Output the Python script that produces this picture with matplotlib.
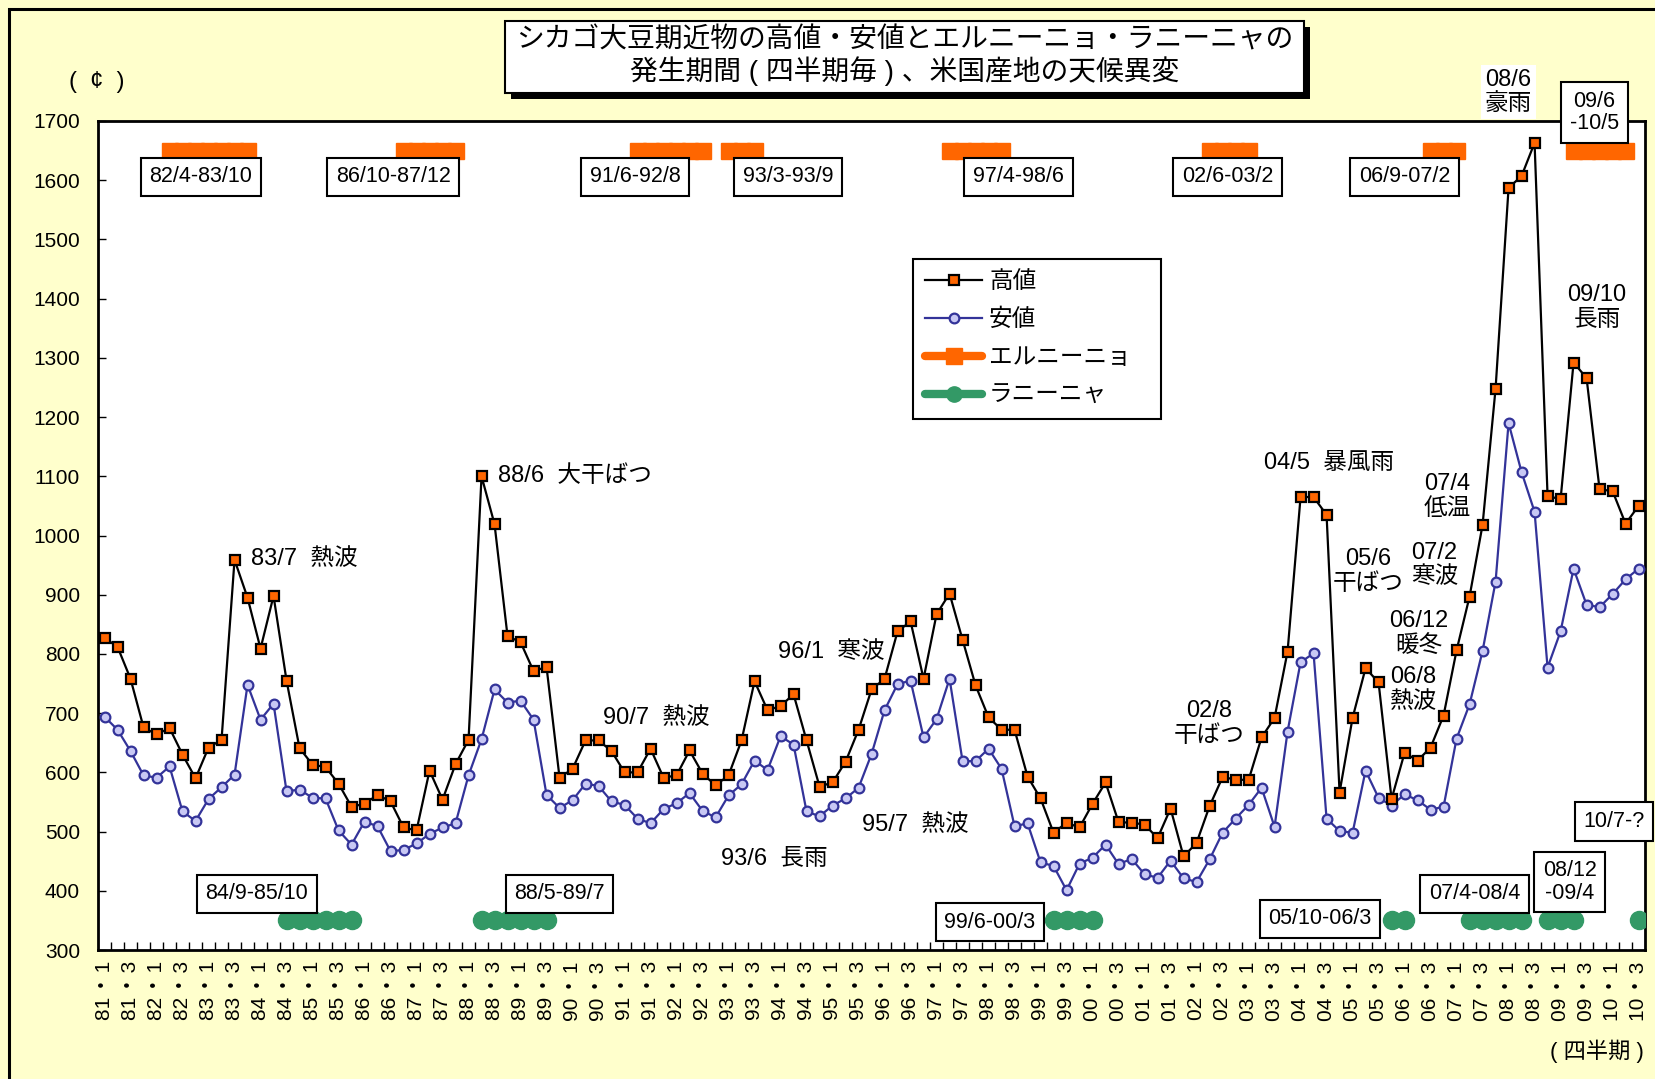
import numpy as np
import matplotlib
matplotlib.use("Agg")
import matplotlib.pyplot as plt
from matplotlib.patches import Rectangle
from matplotlib.lines import Line2D

plt.rcParams['font.family'] = ['Liberation Sans', 'Noto Sans CJK JP', 'DejaVu Sans']

# 四半期 81・1 .. 10・3
quarters = [f"{y % 100:02d}\u200a・\u200a{q}" for y in range(1981, 2011) for q in range(1, 5)][:119]

# 高値 (cents)
high = [827, 812, 758, 676, 664, 675, 630, 590, 642, 655, 959, 895, 809, 898, 755, 641, 613, 609, 581, 542,
        547, 562, 551, 507, 502, 603, 554, 614, 655, 1100, 1019, 830, 820, 771, 778, 591,
        606, 654, 654, 636, 600, 600, 640, 591, 595, 637, 598, 578, 595, 654, 754, 705, 712, 732, 654, 576,
        583, 618, 672, 740, 758, 838, 855, 758, 867, 902, 824, 747, 693, 672, 672, 593, 556, 498, 515, 507, 547,
        583, 516, 515, 512, 489, 539, 458, 481, 543, 592, 588, 587, 659, 692, 804, 1065, 1065, 1035, 566, 692,
        776, 752, 555, 633, 620, 642, 696, 806, 897, 1018,
        1248, 1587, 1607, 1663, 1067, 1061, 1292, 1266, 1078, 1075, 1020, 1050]

# 安値 (cents)
low = [694, 672, 636, 595, 591, 610, 534, 518, 555, 575, 596, 748, 689, 716, 568, 571, 557, 556, 502, 478,
       517, 509, 467, 469, 480, 496, 507, 514, 595, 656, 740, 718, 721, 689, 562, 540,
       553, 581, 577, 551, 545, 522, 514, 538, 548, 565, 535, 524, 561, 580, 620, 604, 661, 647, 534, 526,
       544, 556, 574, 631, 705, 749, 755, 659, 690, 758, 619, 619, 640, 606, 509, 514, 448, 442, 401, 446, 456,
       478, 445, 454, 428, 422, 451, 421, 415, 453, 498, 522, 545, 574, 508, 669, 786, 801, 522, 501, 498,
       603, 557, 544, 563, 553, 537, 542, 657, 715, 805, 922, 1190, 1107, 1040, 777, 838, 944, 883, 879, 901,
       926, 944]

# エルニーニョ / ラニーニャ 発生期間 (quarter index start, end)
elnino_spans = [(5, 11), (23, 27), (41, 46), (48, 50), (65, 69), (85, 88), (102, 104), (113, 117)]
lanina_spans = [(14, 19), (29, 34), (73, 76), (99, 100), (105, 109), (111, 113), (118, 118)]
elnino_level = 1650
lanina_level = 350

elnino_boxes = [("82/4-83/10", 7.4, 1606), ("86/10-87/12", 22.2, 1606), ("91/6-92/8", 40.8, 1606),
                ("93/3-93/9", 52.6, 1606), ("97/4-98/6", 70.3, 1606), ("02/6-03/2", 86.4, 1606),
                ("06/9-07/2", 100.0, 1606), ("09/6\n-10/5", 114.6, 1714)]
lanina_boxes = [("84/9-85/10", 11.7, 395), ("88/5-89/7", 35.0, 395), ("99/6-00/3", 68.1, 347),
                ("05/10-06/3", 93.5, 353), ("07/4-08/4", 105.4, 395), ("08/12\n-09/4", 112.7, 415),
                ("10/7-?", 116.1, 517)]

events = [("83/7  熱波", 11.3, 961, 'left'), ("88/6  大干ばつ", 30.3, 1100, 'left'),
          ("90/7  熱波", 38.35, 692, 'left'), ("96/1  寒波", 51.8, 804, 'left'),
          ("93/6  長雨", 47.4, 454, 'left'), ("95/7  熱波", 58.3, 511, 'left'),
          ("02/8\n干ばつ", 85.0, 683, 'center'), ("04/5  暴風雨", 89.2, 1123, 'left'),
          ("05/6\n干ばつ", 97.2, 939, 'center'), ("07/2\n寒波", 102.3, 950, 'center'),
          ("07/4\n低温", 103.3, 1066, 'center'), ("06/12\n暖冬", 101.1, 834, 'center'),
          ("06/8\n熱波", 100.7, 740, 'center'), ("09/10\n長雨", 114.8, 1385, 'center')]

n = len(quarters)
x = np.arange(n)
elnino = np.full(n, np.nan)
for s, e in elnino_spans:
    elnino[s:e + 1] = elnino_level
lanina = np.full(n, np.nan)
for s, e in lanina_spans:
    lanina[s:e + 1] = lanina_level

fig = plt.figure(figsize=(16.56, 10.79), dpi=100, facecolor='#FFFFCC')
ax = fig.add_axes([0.0592, 0.1195, 0.9342, 0.7684])
ax.set_facecolor('white')

orange = '#FF6600'
navy = '#333399'
green = '#339966'

ax.plot(x, elnino, color=orange, lw=12, marker='s', ms=12, mec=orange, solid_capstyle='butt', zorder=3)
ax.plot(x, lanina, color=green, lw=8, marker='o', ms=13, mec=green, zorder=3)
ax.plot(x, low, color=navy, lw=1.6, marker='o', ms=7, mfc='#C8C8F4', mec=navy, mew=1.6, zorder=4)
ax.plot(x, high, color='black', lw=1.6, marker='s', ms=6.5, mfc=orange, mec='black', mew=1.6, zorder=5)

ax.set_xlim(-0.5, n - 0.5)
ax.set_ylim(300, 1700)
ax.set_yticks(range(300, 1800, 100))
ax.set_xticks(x[::2])
ax.set_xticklabels(quarters[::2], rotation=90, fontsize=15)
ax.set_xticks(np.arange(0.5, n - 1, 1), minor=True)
ax.tick_params(axis='x', which='major', length=0, pad=8)
ax.tick_params(axis='x', which='minor', direction='in', length=6, width=1)
ax.tick_params(axis='y', direction='in', length=6, width=1, labelsize=15, pad=13)
for sp in ax.spines.values():
    sp.set_linewidth(2)

box_kw = dict(boxstyle='square,pad=0.4', fc='white', ec='black', lw=1.5)
for txt, bx, by in elnino_boxes + lanina_boxes:
    ax.text(bx, by, txt, ha='center', va='center', fontsize=15.5, bbox=box_kw,
            zorder=10, clip_on=False, linespacing=1.1)

for txt, ex, ey, ha in events:
    ax.text(ex, ey, txt, ha=ha, va='center', fontsize=17, zorder=6, linespacing=1.15)

ax.text(108.0, 1749, "08/6\n豪雨", ha='center', va='center', fontsize=17, linespacing=1.15,
        bbox=dict(boxstyle='square,pad=0.15', fc='white', ec='none'), zorder=10, clip_on=False)

handles = [
    Line2D([], [], color='black', lw=1.6, marker='s', ms=6.5, mfc=orange, mec='black', mew=1.6),
    Line2D([], [], color=navy, lw=1.6, marker='o', ms=7, mfc='#C8C8F4', mec=navy, mew=1.6),
    Line2D([], [], color=orange, lw=6, marker='s', ms=11, mec=orange, solid_capstyle='round'),
    Line2D([], [], color=green, lw=6, marker='o', ms=11, mec=green, solid_capstyle='round'),
]
leg = ax.legend(handles, ["高値", "安値", "エルニーニョ", "ラニーニャ"], loc='upper left',
                bbox_to_anchor=(0.5516, 0.6136, 0.1492, 0.1464), bbox_transform=fig.transFigure,
                mode='expand', fontsize=17, handlelength=2.4, handletextpad=0.3, labelspacing=0.68,
                borderpad=0.5, fancybox=False, framealpha=1, edgecolor='black', borderaxespad=0)
leg.get_frame().set_linewidth(1.5)
leg.set_zorder(12)

# title box with shadow
W, H = 1656.0, 1079.0
tx0, ty0, tw, th = 505 / W, 1 - 93 / H, 799 / W, 72 / H
fig.add_artist(Rectangle((tx0 + 6 / W, ty0 - 6 / H), tw, th, transform=fig.transFigure,
                         fc='black', ec='black', lw=0))
fig.add_artist(Rectangle((tx0, ty0), tw, th, transform=fig.transFigure,
                         fc='white', ec='black', lw=1.5))
fig.text(905 / W, 1 - 57 / H, "シカゴ大豆期近物の高値・安値とエルニーニョ・ラニーニャの\n発生期間 ( 四半期毎 ) 、米国産地の天候異変",
         ha='center', va='center', fontsize=20, linespacing=1.12)

fig.text(97 / W, 1 - 82 / H, "(  ¢  )", ha='center', va='center', fontsize=17)
fig.text(1597 / W, 1 - 1051 / H, "( 四半期 )", ha='center', va='center', fontsize=16)

# outer border
fig.add_artist(Rectangle((8.5 / W, -0.1), 1.2, 1.1 - 8.5 / H, transform=fig.transFigure,
                         fc='none', ec='black', lw=2.2))

fig.savefig("out.png", dpi=100, facecolor=fig.get_facecolor())
